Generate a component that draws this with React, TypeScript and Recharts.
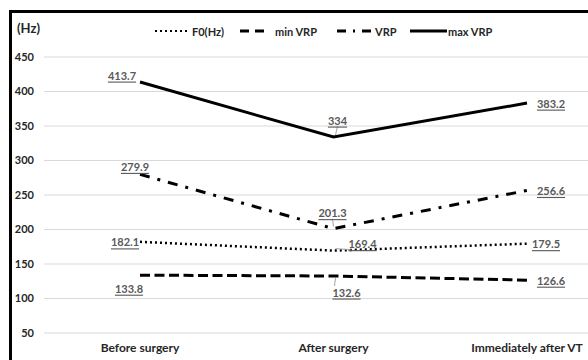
import { LineChart, Line, XAxis, YAxis, CartesianGrid } from 'recharts';

const stages = ['Before surgery', 'After surgery', 'Immediately after VT'];
const f0Hz = [182.1, 169.4, 179.5];
const minVrp = [133.8, 132.6, 126.6];
const vrp = [279.9, 201.3, 256.6];
const maxVrp = [413.7, 334, 383.2];
const yTicks = [50, 100, 150, 200, 250, 300, 350, 400, 450];

const chartData = stages.map((stage, i) => ({
  stage,
  f0: f0Hz[i],
  minVrp: minVrp[i],
  vrp: vrp[i],
  maxVrp: maxVrp[i],
}));

// label placement relative to each point: [dx, dy, leader]
type Place = [number, number, boolean];
const f0Places: Place[] = [[-15, 0, false], [29, -7, true], [19, 0, false]];
const minPlaces: Place[] = [[-11, 13, false], [13, 16, true], [24, 0, false]];
const vrpPlaces: Place[] = [[-5, -8, false], [-1, -16, true], [24, 0, false]];
const maxPlaces: Place[] = [[-18, -7, false], [4, -17, true], [24, 0, false]];

const FONT = 'Lato, "Noto Sans", sans-serif';

function makeLabel(places: Place[]) {
  return (props: any) => {
    const { x, y, value, index } = props;
    const [dx, dy, leader] = places[index];
    const lx = x + dx;
    const ly = y + dy;
    return (
      <g key={`lbl-${index}`}>
        {leader && (
          <line
            x1={x + (dx > 0 ? 2 : 0)}
            y1={y + (dy > 0 ? 2 : -2)}
            x2={lx - (dx > 8 ? 12 : 0)}
            y2={ly + (dy > 0 ? -6 : 6)}
            stroke="#a6a6a6"
            strokeWidth={1}
          />
        )}
        <text
          x={lx}
          y={ly}
          textAnchor="middle"
          dominantBaseline="central"
          fontFamily={FONT}
          fontSize={11}
          fontWeight={700}
          fill="#595959"
          textDecoration="underline"
        >
          {value}
        </text>
      </g>
    );
  };
}

const legendItems = [
  { name: 'F0(Hz)', dash: '2 3', x1: 155, x2: 190, tx: 192 },
  { name: 'min VRP', dash: '9 6', x1: 240, x2: 268, tx: 275 },
  { name: 'VRP', dash: '9 7 2 7', x1: 337, x2: 373, tx: 375 },
  { name: 'max VRP', dash: undefined, x1: 410, x2: 447, tx: 448 },
];

export default function App() {
  return (
    <div
      style={{
        position: 'absolute',
        left: 0,
        top: 0,
        width: 588,
        height: 360,
        overflow: 'hidden',
        background: '#fff',
      }}
    >
      <div
        style={{
          position: 'absolute',
          left: 9,
          top: 10,
          width: 640,
          height: 400,
          borderTop: '3px solid #000',
          borderLeft: '3px solid #000',
        }}
      />
      <div style={{ position: 'absolute', left: 0, top: 0 }}>
        <LineChart
          width={640}
          height={380}
          data={chartData}
          margin={{ top: 57, right: 17, left: 0, bottom: 17 }}
        >
          <CartesianGrid vertical={false} stroke="#d9d9d9" />
          <XAxis
            dataKey="stage"
            axisLine={false}
            tickLine={false}
            tickSize={0}
            tickMargin={10}
            height={30}
            padding={{ left: 96, right: 96 }}
            interval={0}
            tick={{ fontFamily: FONT, fontSize: 12, fontWeight: 700, fill: '#262626' }}
          />
          <YAxis
            domain={[50, 450]}
            ticks={yTicks}
            axisLine={false}
            tickLine={false}
            tickSize={0}
            tickMargin={10}
            width={44}
            tick={{ fontFamily: FONT, fontSize: 11, fontWeight: 700, fill: '#262626' }}
          />
          <Line
            dataKey="f0"
            stroke="#000"
            strokeWidth={2.5}
            strokeDasharray="2 3"
            dot={false}
            isAnimationActive={false}
            label={makeLabel(f0Places)}
          />
          <Line
            dataKey="minVrp"
            stroke="#000"
            strokeWidth={3}
            strokeDasharray="10 4.5"
            dot={false}
            isAnimationActive={false}
            label={makeLabel(minPlaces)}
          />
          <Line
            dataKey="vrp"
            stroke="#000"
            strokeWidth={3}
            strokeDasharray="10 8 3 8"
            dot={false}
            isAnimationActive={false}
            label={makeLabel(vrpPlaces)}
          />
          <Line
            dataKey="maxVrp"
            stroke="#000"
            strokeWidth={3}
            dot={false}
            isAnimationActive={false}
            label={makeLabel(maxPlaces)}
          />
        </LineChart>
      </div>
      <svg
        width={588}
        height={50}
        style={{ position: 'absolute', left: 0, top: 0 }}
      >
        <text
          x={17}
          y={28}
          dominantBaseline="central"
          fontFamily={FONT}
          fontSize={13}
          fontWeight={700}
          fill="#262626"
        >
          (Hz)
        </text>
        {legendItems.map((item) => (
          <g key={item.name}>
            <line
              x1={item.x1}
              y1={31}
              x2={item.x2}
              y2={31}
              stroke="#000"
              strokeWidth={item.name === 'F0(Hz)' ? 2 : 3}
              strokeDasharray={item.dash}
            />
            <text
              x={item.tx}
              y={31}
              dominantBaseline="central"
              fontFamily={FONT}
              fontSize={11}
              fontWeight={700}
              fill="#262626"
            >
              {item.name}
            </text>
          </g>
        ))}
      </svg>
    </div>
  );
}
